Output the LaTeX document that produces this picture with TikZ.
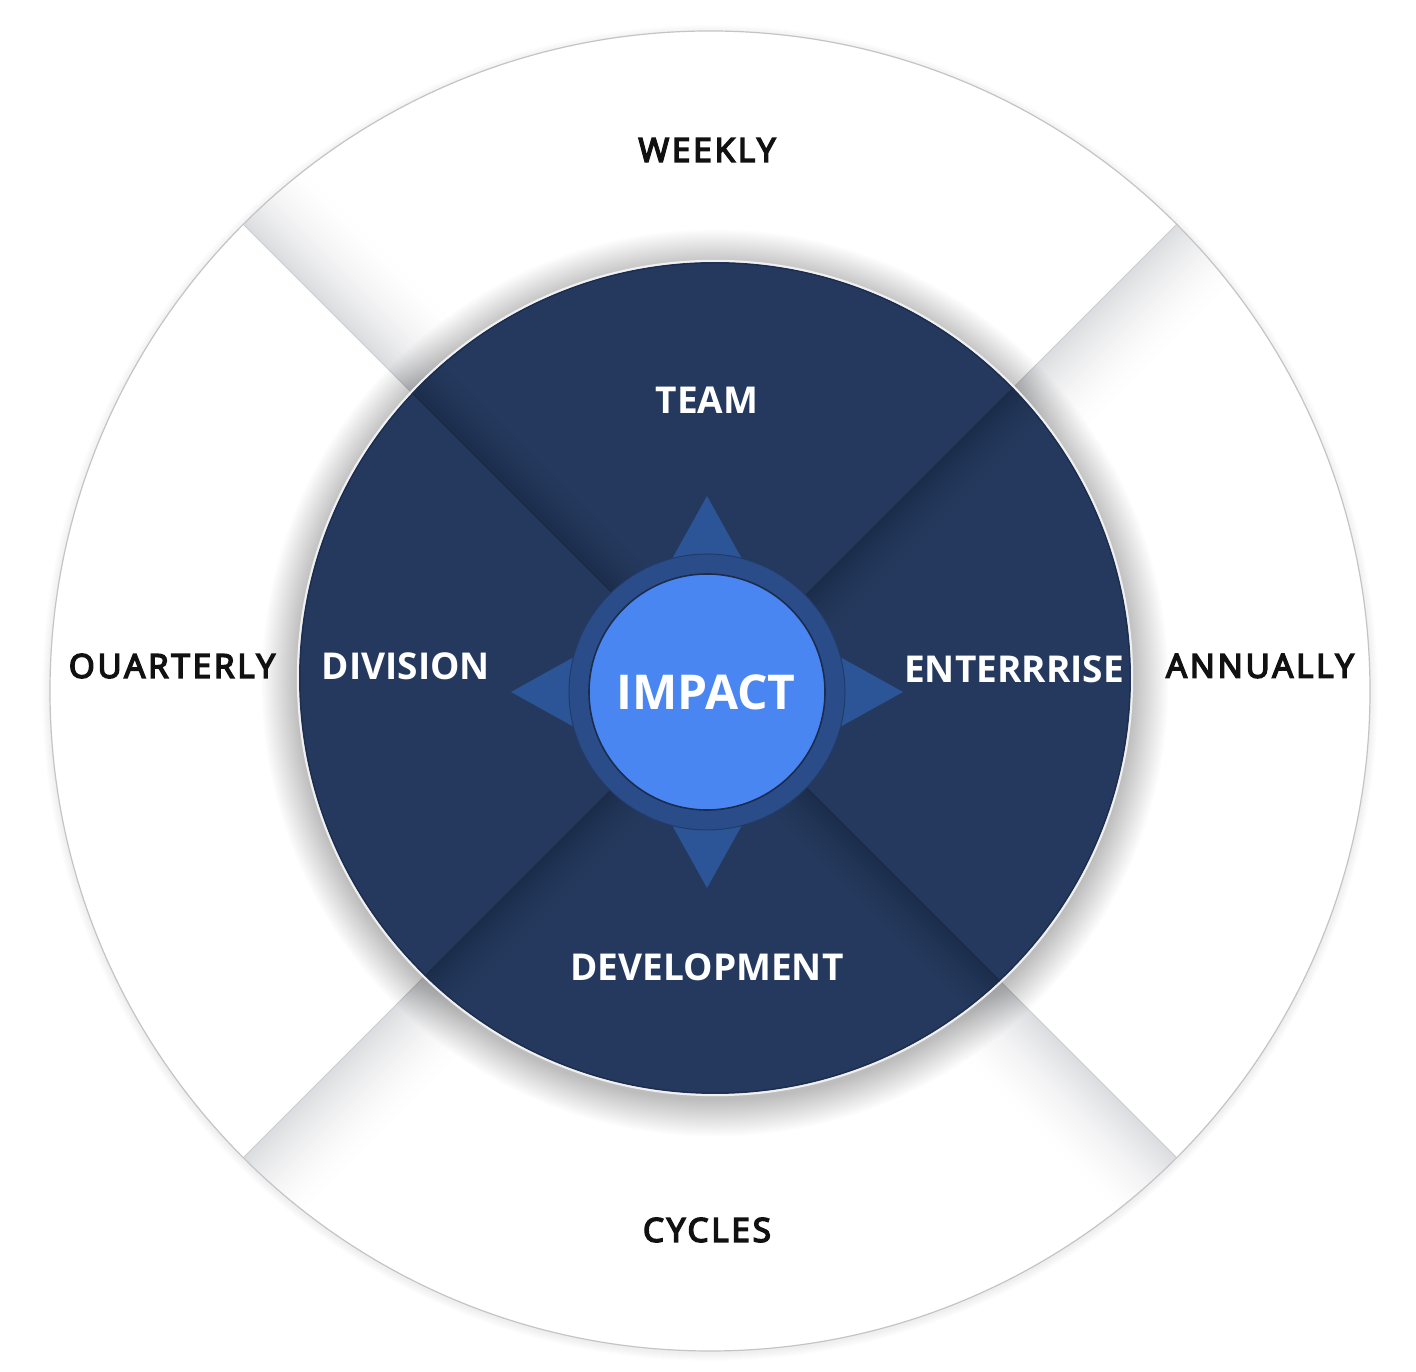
\documentclass[tikz,border=0pt]{standalone}
\usepackage{fontspec}
\setmainfont{Open Sans}
\newfontfamily\lblfont{Open Sans}
\newfontfamily\outfont{Open Sans}[FakeBold=5, LetterSpace=9]
\definecolor{navy}{HTML}{24395D}
\definecolor{navydark}{HTML}{1C2D4B}
\definecolor{navyline}{HTML}{1A2A46}
\definecolor{bandgray}{HTML}{DCDDE0}
\definecolor{outerline}{HTML}{C4C4C4}
\definecolor{starblue}{HTML}{2C5597}
\definecolor{ringblue}{HTML}{2A4D8A}
\definecolor{impactblue}{HTML}{4A86F1}
\definecolor{impactedge}{HTML}{1B2C4E}
\definecolor{outertext}{HTML}{111111}
\newcommand\myband[6]{%
  \begin{scope}[shift={#1},rotate=#2]
    \foreach \k in {0,...,29}{
      \pgfmathsetmacro\pp{100*(1-\k/30)^1.8}
      \fill[#4!\pp!#5] (0,{#3*\k*#6/30}) rectangle (720,{#3*(\k+1.3)*#6/30});
    }
  \end{scope}}
\tikzset{
  outerlbl/.style={inner sep=0pt, text=outertext, font=\outfont\fontsize{33}{33}\selectfont},
  innerlbl/.style={inner sep=0pt, text=white, font=\lblfont\bfseries\fontsize{37}{37}\selectfont},
}
\begin{document}
\begin{tikzpicture}[x=1pt,y=1pt]
\useasboundingbox (0,0) rectangle (1416,1372);
\fill[white] (0,0) rectangle (1416,1372);
\coordinate (O) at (710,681);
\coordinate (C) at (715,694);
\coordinate (I) at (707,680);
% soft shadow of outer disc
\foreach \k in {1,...,8}{\fill[black,opacity=0.006] (710,679) circle ({660+\k});}
\fill[white] (O) circle (660);
% outer bands
\begin{scope}
  \clip (O) circle (660);
  \myband{(O)}{135}{-1}{bandgray}{white}{85}
  \myband{(O)}{45}{-1}{bandgray}{white}{85}
  \myband{(O)}{225}{1}{bandgray}{white}{85}
  \myband{(O)}{315}{-1}{bandgray}{white}{85}
  \foreach \a in {45,135,225,315}{\draw[gray!40, line width=0.8] (O) -- ++(\a:700);}
\end{scope}
\draw[outerline, line width=1.2] (O) circle (660);
% halo shadow of the dark disc
\foreach \k in {1,...,22}{\fill[black,opacity=0.011] (715,689) circle ({416+1.7*\k});}
% dark disc
\fill[navy] (C) circle (416);
\begin{scope}
  \clip (C) circle (416);
  \myband{(O)}{135}{-1}{navydark}{navy}{50}
  \myband{(O)}{45}{-1}{navydark}{navy}{50}
  \myband{(O)}{225}{1}{navydark}{navy}{50}
  \myband{(O)}{315}{-1}{navydark}{navy}{50}
  \foreach \a in {45,135,225,315}{\draw[navyline, line width=0.8] (O) -- ++(\a:700);}
\end{scope}
\draw[impactedge, line width=1] (C) circle (415);
\draw[white!88!gray, line width=2] (C) circle (417.2);
% compass star and ring
\fill[starblue] (I) ++(0,196) -- ++(70,-126) -- ++(126,-70) -- ++(-126,-70)
  -- ++(-70,-126) -- ++(-70,126) -- ++(-126,70) -- ++(126,70) -- cycle;
\fill[ringblue] (I) circle (138);
\draw[navyline!50!ringblue, line width=1] (I) circle (138);
% centre
\node[circle, inner sep=0pt, minimum size=236, fill=impactblue, draw=impactedge, line width=1.6] (impact) at (I) {};
\node[inner sep=0pt, text=white, font=\lblfont\bfseries\fontsize{48}{48}\selectfont] (impactlbl) at (706,680) {IMPACT};
% inner labels
\node[innerlbl] (team) at (707,972) {TEAM};
\node[innerlbl] (division) at (406,706) {DIVISION};
\node[innerlbl] (enterprise) at (1014,703) {ENTERRRISE};
\node[innerlbl] (development) at (707,405) {DEVELOPMENT};
% outer labels
\node[outerlbl] (weekly) at (707,1222) {WEEKLY};
\node[outerlbl] (quarterly) at (172,706) {OUARTERLY};
\node[outerlbl] (annually) at (1260,706) {ANNUALLY};
\node[outerlbl] (cycles) at (707,142) {CYCLES};
\end{tikzpicture}
\end{document}
